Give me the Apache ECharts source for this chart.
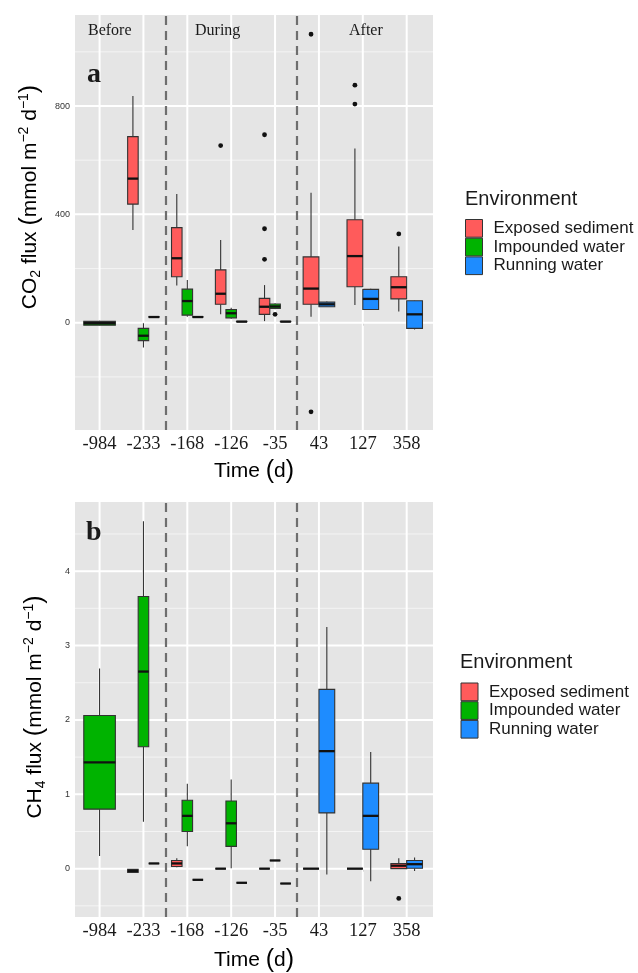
<!DOCTYPE html>
<html><head><meta charset="utf-8">
<script src="https://cdn.jsdelivr.net/npm/echarts@6/dist/echarts.min.js"></script>
<style>html,body{margin:0;padding:0;background:#fff}#c{width:638px;height:973px}</style>
</head><body><div id="c"></div>
<script>
// ---------- DATA ----------
const categories = ['-984', '-233', '-168', '-126', '-35', '43', '127', '358'];
const groups = ['Exposed sediment', 'Impounded water', 'Running water'];
const phaseLabels = ['Before', 'During', 'After'];
const phaseBoundaries = [1.5, 4.5];

// CO2 flux boxes: [min, q1, median, q3, max]; null = group absent at that time
const co2Exposed = [null, [342, 438, 532, 687, 837], [137, 170, 238, 351, 475], [31, 68, 107, 195, 305], [6, 31, 59, 90, 139], [22, 68, 126, 243, 480], [65, 133, 246, 380, 643], [41, 88, 131, 170, 281]];
const co2Impounded = [[-10, -9, -2, 5, 7], [-91, -66, -48, -21, -2], [22, 28, 80, 124, 158], [15, 18, 35, 49, 55], [50, 53, 60, 69, 72], null, null, null];
const co2Running = [null, [21, 21, 21, 22, 22], [21, 21, 21, 22, 22], [4, 4, 4, 5, 5], [4, 4, 4, 5, 5], [58, 59, 68, 76, 78], [49, 49, 88, 123, 125], [-25, -21, 31, 81, 82]];
const co2ExposedOutliers = [[], [], [], [654], [694, 347, 234], [1065, -329], [877, 807], [328]];
const co2ImpoundedOutliers = [[], [], [], [], [31], [], [], []];
const co2RunningOutliers = [[], [], [], [], [], [], [], []];
const co2Ticks = [0, 400, 800];
const co2MinorTicks = [-200, 200, 600, 1000];

// CH4 flux boxes
const ch4Exposed = [null, [-0.05, -0.05, -0.03, -0.01, -0.01], [0.02, 0.03, 0.07, 0.11, 0.14], [0, 0, 0, 0, 0], [0, 0, 0, 0, 0], [0, 0, 0, 0, 0], [0, 0, 0, 0, 0], [0, 0, 0.04, 0.07, 0.14]];
const ch4Impounded = [[0.17, 0.80, 1.43, 2.06, 2.69], [0.63, 1.64, 2.65, 3.66, 4.67], [0.30, 0.50, 0.71, 0.92, 1.14], [0.005, 0.30, 0.61, 0.91, 1.20], [0.11, 0.11, 0.11, 0.11, 0.11], null, null, null];
const ch4Running = [null, [0.07, 0.07, 0.07, 0.07, 0.07], [-0.15, -0.15, -0.15, -0.15, -0.15], [-0.19, -0.19, -0.19, -0.19, -0.19], [-0.20, -0.20, -0.20, -0.20, -0.20], [-0.08, 0.75, 1.58, 2.41, 3.25], [-0.17, 0.26, 0.71, 1.15, 1.57], [-0.03, 0.005, 0.06, 0.11, 0.15]];
const ch4ExposedOutliers = [[], [], [], [], [], [], [], [-0.40]];
const ch4ImpoundedOutliers = [[], [], [], [], [], [], [], []];
const ch4RunningOutliers = [[], [], [], [], [], [], [], []];
const ch4Ticks = [0, 1, 2, 3, 4];
const ch4MinorTicks = [-0.5, 0.5, 1.5, 2.5, 3.5, 4.5];

// ---------- STYLE ----------
const colors = ['#FF5B5B', '#00B300', '#1E8CFF'];
const BOX_SPAN = 0.72;
const panelBg = '#E5E5E5';

function slotInfo(allStats, g, i) {
  const present = [];
  allStats.forEach((s, k) => { if (s[i]) present.push(k); });
  return [present.indexOf(g), present.length];
}

function boxCenter(api, i, slot, n) {
  const unit = api.size([1, 0])[0];
  const total = unit * BOX_SPAN;
  const w = total / n;
  const cx = api.coord([i, 0])[0] - total / 2 + (slot + 0.5) * w;
  return [cx, w];
}

function boxRender(color) {
  return function (params, api) {
    const i = api.value(0), slot = api.value(1), n = api.value(2);
    const [cx, w] = boxCenter(api, i, slot, n);
    const y = v => api.coord([i, v])[1];
    const yMin = y(api.value(3)), yQ1 = y(api.value(4)), yMed = y(api.value(5)), yQ3 = y(api.value(6)), yMax = y(api.value(7));
    return {
      type: 'group', children: [
        { type: 'line', shape: { x1: cx, y1: yQ3, x2: cx, y2: yMax }, style: { stroke: '#333', lineWidth: 1.1 } },
        { type: 'line', shape: { x1: cx, y1: yQ1, x2: cx, y2: yMin }, style: { stroke: '#333', lineWidth: 1.1 } },
        { type: 'rect', shape: { x: cx - w / 2, y: yQ3, width: w, height: yQ1 - yQ3 }, style: { fill: color, stroke: '#333', lineWidth: 1.1 } },
        { type: 'line', shape: { x1: cx - w / 2, y1: yMed, x2: cx + w / 2, y2: yMed }, style: { stroke: '#111', lineWidth: 2.3 } }
      ]
    };
  };
}

function outlierRender(params, api) {
  const i = api.value(0), slot = api.value(1), n = api.value(2);
  const [cx] = boxCenter(api, i, slot, n);
  const cy = api.coord([i, api.value(3)])[1];
  return { type: 'circle', shape: { cx: cx, cy: cy, r: 2.4 }, style: { fill: '#111' } };
}

function gridRender(params, api) {
  const cs = params.coordSys;
  const kind = api.value(0), v = api.value(1);
  if (kind === 2) {
    const x = api.coord([v, 0])[0];
    return { type: 'line', shape: { x1: x, y1: cs.y, x2: x, y2: cs.y + cs.height }, style: { stroke: '#fff', lineWidth: 2 } };
  }
  const y = api.coord([0, v])[1];
  return { type: 'line', shape: { x1: cs.x, y1: y, x2: cs.x + cs.width, y2: y }, style: { stroke: kind === 0 ? '#fff' : '#F4F4F4', lineWidth: kind === 0 ? 2 : 1 } };
}

function panelSeries(p, allStats, allOut, ticks, minorTicks) {
  const series = [];
  const gridData = [];
  ticks.forEach(v => gridData.push([0, v]));
  minorTicks.forEach(v => gridData.push([1, v]));
  categories.forEach((c, i) => gridData.push([2, i]));
  series.push({
    type: 'custom', xAxisIndex: p, yAxisIndex: p, silent: true, z: 1,
    renderItem: gridRender, data: gridData,
    markLine: {
      silent: true, symbol: 'none', label: { show: false },
      lineStyle: { color: '#6E6E6E', width: 2.2, type: [9, 6] },
      data: phaseBoundaries.map(b => ({ xAxis: b }))
    }
  });
  groups.forEach((g, gi) => {
    const data = [];
    allStats[gi].forEach((s, i) => {
      if (!s) return;
      const [slot, n] = slotInfo(allStats, gi, i);
      data.push([i, slot, n].concat(s));
    });
    series.push({
      name: g, type: 'custom', xAxisIndex: p, yAxisIndex: p, z: 3,
      itemStyle: { color: colors[gi] },
      renderItem: boxRender(colors[gi]), data: data,
      encode: { x: 0, y: 5 }
    });
  });
  const outData = [];
  groups.forEach((g, gi) => {
    allOut[gi].forEach((vals, i) => {
      if (!vals.length) return;
      const [slot, n] = slotInfo(allStats, gi, i);
      vals.forEach(v => outData.push([i, slot, n, v]));
    });
  });
  series.push({
    type: 'custom', xAxisIndex: p, yAxisIndex: p, z: 4, silent: true,
    renderItem: outlierRender, data: outData, encode: { x: 0, y: 3 }
  });
  return series;
}

const gridLeft = 75, gridW = 358, gridH = 415;
const grids = [
  { left: gridLeft, top: 15, width: gridW, height: gridH, show: true, backgroundColor: panelBg, borderWidth: 0 },
  { left: gridLeft, top: 502, width: gridW, height: gridH, show: true, backgroundColor: panelBg, borderWidth: 0 }
];

const idx = categories.map((c, i) => i);
function xAxis(p) {
  return {
    type: 'value', gridIndex: p, min: -0.56, max: 7.6,
    axisLine: { show: false }, splitLine: { show: false },
    axisTick: { show: true, customValues: idx, length: 3, lineStyle: { color: '#333' } },
    axisLabel: {
      customValues: idx, margin: 5, formatter: v => categories[Math.round(v)],
      fontFamily: 'Liberation Serif', fontSize: 18.5, color: '#1a1a1a'
    }
  };
}
function yAxis(p, min, max, ticks) {
  return {
    type: 'value', gridIndex: p, min: min, max: max,
    axisLine: { show: false }, splitLine: { show: false },
    axisTick: { show: true, customValues: ticks, length: 3, lineStyle: { color: '#333' } },
    axisLabel: { customValues: ticks, margin: 5, fontFamily: 'Liberation Sans', fontSize: 9, color: '#333' }
  };
}

function legend(left, top) {
  return {
    data: groups, orient: 'vertical', left: left, top: top, padding: 0,
    itemWidth: 17, itemHeight: 17.7, itemGap: 0, icon: 'rect', selectedMode: false,
    itemStyle: { borderColor: '#333', borderWidth: 1 },
    textStyle: { fontFamily: 'Liberation Sans', fontSize: 17, color: '#1a1a1a', lineHeight: 17.7, padding: [0, 0, 0, 6] }
  };
}

function axisTitle(x, y, rotate, parts) {
  const rich = {
    m: { fontFamily: 'Liberation Sans', fontSize: 21, lineHeight: 26, color: '#111' },
    p: { fontFamily: 'Liberation Sans', fontSize: 25, lineHeight: 26, color: '#111' },
    sup: { fontFamily: 'Liberation Sans', fontSize: 14, lineHeight: 14, verticalAlign: 'top', color: '#111' },
    sub: { fontFamily: 'Liberation Sans', fontSize: 14, lineHeight: 14, verticalAlign: 'bottom', color: '#111' }
  };
  return {
    type: 'text', x: x, y: y, rotation: rotate ? Math.PI / 2 : 0, silent: true, z: 100,
    style: { text: parts, rich: rich, align: 'center', verticalAlign: 'middle' }
  };
}

const serifText = (t, x, y, size, bold) => ({
  type: 'text', x: x, y: y, silent: true, z: 100,
  style: { text: t, fontFamily: 'Liberation Serif', fontSize: size, fontWeight: bold ? 'bold' : 'normal', fill: '#1a1a1a', align: 'left', verticalAlign: 'middle' }
});
const sansText = (t, x, y, size) => ({
  type: 'text', x: x, y: y, silent: true, z: 100,
  style: { text: t, fontFamily: 'Liberation Sans', fontSize: size, fill: '#1a1a1a', align: 'left', verticalAlign: 'middle' }
});

const option = {
  animation: false,
  backgroundColor: '#fff',
  grid: grids,
  xAxis: [xAxis(0), xAxis(1)],
  yAxis: [yAxis(0, -396, 1136, co2Ticks), yAxis(1, -0.65, 4.93, ch4Ticks)],
  legend: [legend(465, 219), legend(460.5, 682.5)],
  series: [].concat(
    panelSeries(0, [co2Exposed, co2Impounded, co2Running], [co2ExposedOutliers, co2ImpoundedOutliers, co2RunningOutliers], co2Ticks, co2MinorTicks),
    panelSeries(1, [ch4Exposed, ch4Impounded, ch4Running], [ch4ExposedOutliers, ch4ImpoundedOutliers, ch4RunningOutliers], ch4Ticks, ch4MinorTicks)
  ),
  graphic: {
    elements: [
      serifText(phaseLabels[0], 88, 30.5, 16),
      serifText(phaseLabels[1], 195, 30.5, 16),
      serifText(phaseLabels[2], 349, 30.5, 16),
      serifText('a', 87, 75, 28, true),
      serifText('b', 86, 533, 28, true),
      sansText('Environment', 465, 199, 20),
      sansText('Environment', 460, 662, 20),
      axisTitle(30, 197, true, '{m|CO}{sub|2}{m| flux }{p|(}{m|mmol m}{sup|−2}{m| d}{sup|−1}{p|)}'),
      axisTitle(35, 707, true, '{m|CH}{sub|4}{m| flux }{p|(}{m|mmol m}{sup|−2}{m| d}{sup|−1}{p|)}'),
      axisTitle(254, 471, false, '{m|Time }{p|(}{m|d}{p|)}'),
      axisTitle(254, 960, false, '{m|Time }{p|(}{m|d}{p|)}')
    ]
  }
};

const chart = echarts.init(document.getElementById('c'), null, { renderer: 'canvas' });
chart.setOption(option);
</script>
</body></html>
